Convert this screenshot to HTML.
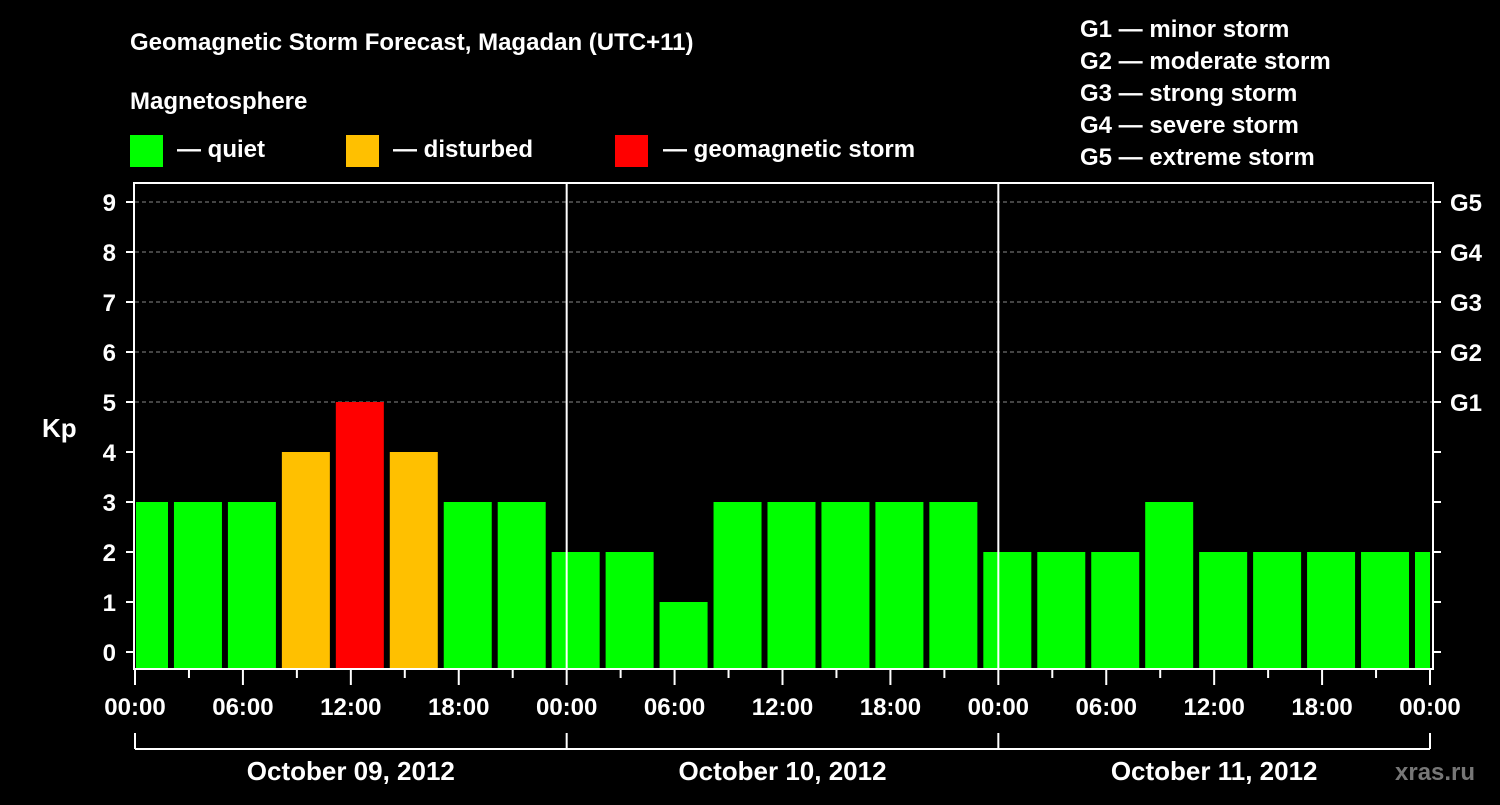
<!DOCTYPE html>
<html><head><meta charset="utf-8"><style>
body{margin:0;background:#000;width:1500px;height:800px;overflow:hidden}
svg text{font-family:"Liberation Sans",sans-serif;font-weight:bold;fill:#fff}
</style></head><body>
<svg id="c" width="1500" height="800">
<text x="130" y="50" font-size="24">Geomagnetic Storm Forecast, Magadan (UTC+11)</text>
<text x="130" y="109" font-size="24">Magnetosphere</text>
<g><rect x="130" y="135" width="33" height="32" fill="#00ff00"/><text x="177" y="157" font-size="24">— quiet</text></g>
<g><rect x="346" y="135" width="33" height="32" fill="#ffc000"/><text x="393" y="157" font-size="24">— disturbed</text></g>
<g><rect x="615" y="135" width="33" height="32" fill="#ff0000"/><text x="663" y="157" font-size="24">— geomagnetic storm</text></g>
<g font-size="24">
<text x="1080" y="37">G1 — minor storm</text>
<text x="1080" y="69">G2 — moderate storm</text>
<text x="1080" y="101">G3 — strong storm</text>
<text x="1080" y="133">G4 — severe storm</text>
<text x="1080" y="165">G5 — extreme storm</text>
</g>
<text x="42" y="437" font-size="26">Kp</text>
<text x="1395" y="780" font-size="24" fill="#777" style="fill:#777">xras.ru</text>
<g id="grid"></g><g id="bars"></g><g id="axes"></g>
</svg>
<script>
const kpValues=[3,3,3,4,5,4,3,3,2,2,1,3,3,3,3,3,2,2,2,3,2,2,2,2,2];
const barHours=[0.5,3.5,6.5,9.5,12.5,15.5,18.5,21.5,23.5,27.5,30.5,33.5,36.5,39.5,42.5,45.5,48.5,51.5,54.5,57.5,60.5,63.5,66.5,69.5,72.5];
const yTicks=[0,1,2,3,4,5,6,7,8,9];
const gLabels=["G1","G2","G3","G4","G5"];
const xTickLabels=["00:00","06:00","12:00","18:00","00:00","06:00","12:00","18:00","00:00","06:00","12:00","18:00","00:00"];
const dayLabels=["October 09, 2012","October 10, 2012","October 11, 2012"];
</script>
<script>
// fix bar 8 hour (pattern every 3h from 0.5)
for(let i=0;i<barHours.length;i++)barHours[i]=0.5+3*i;
const NS="http://www.w3.org/2000/svg";
const X0=135,X1=1430,HOURS=72,TOP=183,BOT=668;
const x=h=>X0+(X1-X0)*h/HOURS;
const y=v=>652-50*v;
function mk(tag,a,parent){const e=document.createElementNS(NS,tag);for(const k in a)e.setAttribute(k,a[k]);document.getElementById(parent).appendChild(e);return e;}
function col(v){return v>=5?"#ff0000":v>=4?"#ffc000":"#00ff00";}
// clip
const cp=mk("clipPath",{id:"cl"},"c");const cr=document.createElementNS(NS,"rect");cr.setAttribute("x",X0+1);cr.setAttribute("y",TOP);cr.setAttribute("width",X1-X0-1);cr.setAttribute("height",BOT-TOP);cp.appendChild(cr);
document.getElementById("bars").setAttribute("clip-path","url(#cl)");
yTicks.forEach(v=>{if(v>=5){const l=mk("line",{x1:X0,x2:1433,y1:y(v),y2:y(v),stroke:"#888","stroke-dasharray":"4,3"},"grid");

}});
kpValues.forEach((v,i)=>{const cx=x(barHours[i]);const r=mk("rect",{x:cx-24,y:y(v),width:48,height:BOT-y(v),fill:col(v)},"bars");

});
// frame
const f=mk("rect",{x:134,y:TOP,width:1433-134,height:BOT+1-TOP,fill:"none",stroke:"#fff","stroke-width":2},"axes");


[1,2].forEach(d=>{const l=mk("line",{x1:x(24*d),x2:x(24*d),y1:TOP,y2:BOT,stroke:"#fff","stroke-width":2},"axes");

});
yTicks.forEach(v=>{mk("line",{x1:126,x2:134,y1:y(v),y2:y(v),stroke:"#fff","stroke-width":2},"axes");
mk("line",{x1:1433,x2:1441,y1:y(v),y2:y(v),stroke:"#fff","stroke-width":2},"axes");
const t=mk("text",{x:116,y:y(v)+9,"font-size":24,"text-anchor":"end"},"axes");t.textContent=v;


if(v>=5){const g=mk("text",{x:1450,y:y(v)+9,"font-size":24},"axes");g.textContent=gLabels[v-5];

}});
for(let h=0;h<=72;h+=3){mk("line",{x1:x(h),x2:x(h),y1:BOT,y2:h%6?678:685,stroke:"#fff","stroke-width":2},"axes");}
xTickLabels.forEach((s,i)=>{const t=mk("text",{x:x(6*i),y:715,"font-size":24,"text-anchor":"middle"},"axes");t.textContent=s;

});
mk("line",{x1:x(0),x2:x(72),y1:749,y2:749,stroke:"#fff","stroke-width":2},"axes");
for(let d=0;d<=3;d++)mk("line",{x1:x(24*d),x2:x(24*d),y1:733,y2:749,stroke:"#fff","stroke-width":2},"axes");
dayLabels.forEach((s,i)=>{const t=mk("text",{x:x(24*i+12),y:780,"font-size":26,"text-anchor":"middle"},"axes");t.textContent=s;

});
</script>
</body></html>
